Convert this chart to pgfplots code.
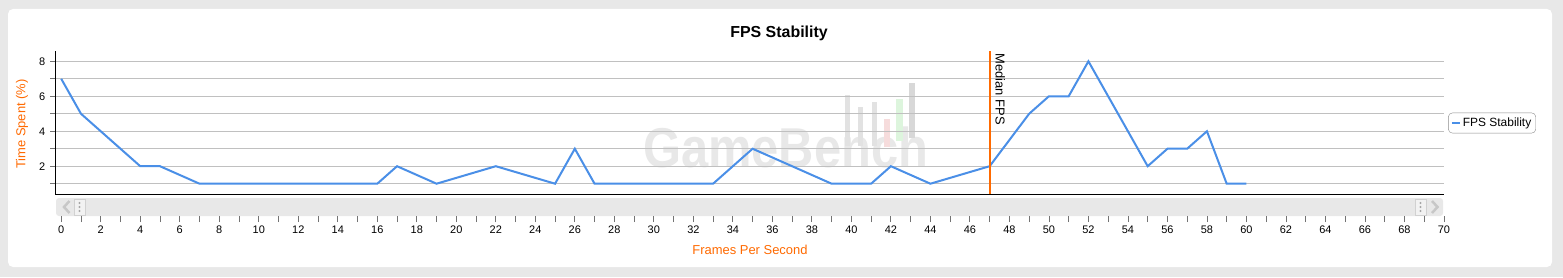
\documentclass[border=0pt]{standalone}
\usepackage{fontspec}
\setmainfont{Liberation Sans}
\usepackage{pgfplots}
\pgfplotsset{compat=1.18}
\definecolor{outerbg}{HTML}{E8E8E8}
\definecolor{fpsblue}{HTML}{4A8FE7}
\definecolor{medorange}{HTML}{FF6A00}
\definecolor{gridgray}{HTML}{C0C0C0}
\definecolor{scrollgray}{HTML}{E8E8E8}
\definecolor{wmgray}{HTML}{E8E8E8}
\definecolor{wmbar}{HTML}{E2E2E2}
\definecolor{wmbardark}{HTML}{D8D8D8}
\definecolor{wmred}{HTML}{F6DCDC}
\definecolor{wmgreen}{HTML}{DDF5DD}
\begin{document}
\begin{tikzpicture}[x=1bp,y=1bp]
% background panels
\fill[outerbg] (0,0) rectangle (1563,277);
\fill[white, rounded corners=5bp] (8,10) rectangle (1552,268);
% watermark
\node[anchor=base west, inner sep=0pt, text=wmgray, yscale=1.15] at (643,110) {\fontsize{49}{50}\selectfont\bfseries GameBench};
\fill[wmbar] (845,277-95) rectangle (850,277-146);
\fill[wmbar] (858,277-107) rectangle (863,277-146);
\fill[wmbar] (872,277-102) rectangle (877,277-146);
\fill[wmred] (884,277-119) rectangle (890,277-147);
\fill[wmgreen] (896,277-99) rectangle (903,277-141);
\fill[wmbardark] (909,277-83) rectangle (915,277-138);
% scrollbar
\fill[scrollgray, rounded corners=3bp] (56,61) rectangle (1443,79);
\draw[black!22, line width=2.5bp] (69.5,277-201) -- (64,277-207) -- (69.5,277-213);
\draw[black!18, fill=black!5] (74,277-199) rectangle (85,277-215);
\foreach \yy in {203,207,211} \fill[black!35] (79.5,277-\yy) circle (1.2);
\draw[black!18, fill=black!5] (1415,277-199) rectangle (1426,277-215);
\foreach \yy in {203,207,211} \fill[black!35] (1420.5,277-\yy) circle (1.2);
\draw[black!22, line width=2.5bp] (1432,277-201) -- (1437.5,277-207) -- (1432,277-213);
% main axis
\begin{axis}[
  at={(55.3bp,82.7bp)}, anchor=south west,
  scale only axis, width=1388.7bp, height=143.6bp,
  xmin=-0.3, xmax=70, ymin=0.394, ymax=8.606,
  axis x line*=bottom, axis y line*=left,
  axis line style={-, black, line width=1.4bp},
  xtick=\empty,
  ytick={1,2,...,8}, yticklabels={,2,,4,,6,,8},
  ytick align=outside, major tick length=5bp,
  y tick style={black!55, line width=0.8bp},
  ymajorgrids, grid style={gridgray, line width=1bp},
  tick label style={font=\fontsize{11}{12}\selectfont, xshift=-1.5bp},
  clip=false,
  legend style={at={(1.003,0.4965)}, anchor=west, draw=black!45, rounded corners=4bp,
    font=\fontsize{12}{14}\selectfont, inner xsep=2.5bp, inner ysep=3bp},
  legend cell align=left,
  legend image code/.code={\draw[#1, line width=2bp] (0bp,0bp) -- (8bp,0bp);},
]
\addplot[fpsblue, line width=2bp, line join=miter, forget plot] coordinates {
(0,7) (1,5) (2,4) (3,3) (4,2) (5,2) (6,1.5) (7,1) (8,1) (9,1) (10,1) (11,1) (12,1)
(13,1) (14,1) (15,1) (16,1) (17,2) (18,1.5) (19,1) (20,1.333) (21,1.667) (22,2)
(23,1.667) (24,1.333) (25,1) (26,3) (27,1) (28,1) (29,1) (30,1) (31,1) (32,1) (33,1)
(34,2) (35,3) (36,2.5) (37,2) (38,1.5) (39,1) (40,1) (41,1) (42,2) (43,1.5) (44,1)
(45,1.333) (46,1.667) (47,2) (48,3.5) (49,5) (50,6) (51,6) (52,8) (53,6) (54,4)
(55,2) (56,3) (57,3) (58,4) (59,1) (60,1)
};
\addplot[medorange, line width=2bp, forget plot] coordinates {(47,0.394) (47,8.606)};
\addlegendimage{fpsblue}
\addlegendentry{FPS Stability}
\end{axis}
% x tick axis
\begin{axis}[
  at={(55.3bp,61bp)}, anchor=south west,
  scale only axis, width=1388.7bp, height=5bp,
  xmin=-0.3, xmax=70, ymin=0, ymax=1,
  hide y axis,
  axis x line*=bottom, x axis line style={draw=none},
  xtick={0,2,...,70}, minor xtick={1,3,...,69},
  xtick align=outside, major tick length=6bp, minor tick length=6bp,
  x tick style={black!55, line width=0.8bp},
  /pgf/number format/assume math mode=true,
  tick label style={font=\fontsize{11}{12}\selectfont},
]
\addplot[draw=none] coordinates {(0,0.5)};
\end{axis}
% texts
\node[font=\bfseries\fontsize{16}{18}\selectfont] at (779,244) {FPS Stability};
\node[rotate=90, text=medorange, font=\fontsize{13}{15}\selectfont] at (22,153) {Time Spent (\%)};
\node[text=medorange, font=\fontsize{13}{15}\selectfont] at (750,27) {Frames Per Second};
\node[rotate=-90, anchor=base west, inner sep=0pt, font=\fontsize{13}{15}\selectfont] at (995.5,223.7) {Median FPS};
\end{tikzpicture}
\end{document}
